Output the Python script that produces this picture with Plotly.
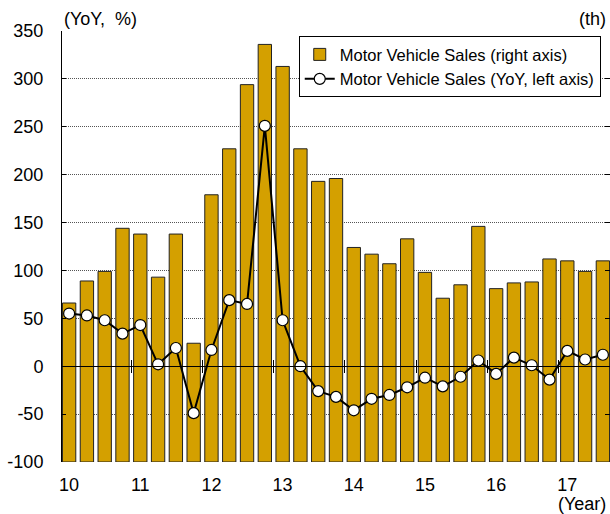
import plotly.graph_objects as go

# quarterly, 2010Q1 .. 2017Q3
quarters = list(range(31))
year_ticks = [0, 4, 8, 12, 16, 20, 24, 28]
year_labels = ['10', '11', '12', '13', '14', '15', '16', '17']
year_bounds = [3.5, 7.5, 11.5, 15.5, 19.5, 23.5, 27.5]

# left axis ticks (plain hyphen for negatives, as in the original)
yoy_ticks = [-100, -50, 0, 50, 100, 150, 200, 250, 300, 350]
yoy_tick_labels = ['-100', '-50', '0', '50', '100', '150', '200', '250', '300', '350']

# motor vehicle sales (right axis, thousand units)
sales = [166, 189, 199, 244, 238, 193, 238, 124,
         279, 327, 394, 436, 413, 327, 293, 296,
         224, 217, 207, 233, 198, 171, 185, 246,
         181, 187, 188, 212, 210, 199, 210]

# YoY change (left axis, %)
yoy = [55, 53, 48, 34, 43, 2, 19, -49,
       17, 69, 65, 251, 48, 0, -26, -32,
       -46, -34, -30, -22, -12, -21, -11, 6,
       -8, 9, 1, -14, 16, 7, 12]

FONT = 'Liberation Sans, Arial, sans-serif'

fig = go.Figure()

# bars on the primary (right-hand) axis, line on the overlaying left axis so it sits on top
fig.add_trace(go.Bar(
    x=quarters, y=sales, yaxis='y',
    name='Motor Vehicle Sales (right axis)',
    marker=dict(color='#D4A000', line=dict(color='#222', width=1)),
    width=0.75
))

fig.add_trace(go.Scatter(
    x=quarters, y=yoy, yaxis='y2',
    mode='lines+markers',
    name='Motor Vehicle Sales (YoY, left axis)',
    line=dict(color='black', width=2),
    marker=dict(size=11, color='white', line=dict(color='black', width=1.2))
))

# empty traces so the zero-line axes get drawn
fig.add_trace(go.Scatter(x=[], y=[], xaxis='x2', yaxis='y2', showlegend=False))
fig.add_trace(go.Scatter(x=[], y=[], xaxis='x3', yaxis='y2', showlegend=False))

zero_pos = 100 / 450

fig.update_layout(
    width=610, height=514,
    margin=dict(l=62, r=0, t=31, b=52),
    plot_bgcolor='white',
    paper_bgcolor='white',
    font=dict(family=FONT, color='black', size=18),
    xaxis=dict(
        range=[-0.4, 30.4],
        tickvals=year_ticks, ticktext=year_labels,
        ticks='outside', ticklen=6, tickcolor='rgba(0,0,0,0)',
        showline=False, showgrid=False, zeroline=False,
        tickfont=dict(size=18), automargin=False
    ),
    xaxis2=dict(
        overlaying='x', anchor='free', position=zero_pos,
        range=[-0.4, 30.4],
        tickvals=year_bounds, ticks='outside', ticklen=6, tickcolor='black',
        showticklabels=False, showline=True, linecolor='black', linewidth=1,
        showgrid=False, zeroline=False, layer='above traces', automargin=False
    ),
    xaxis3=dict(
        overlaying='x', anchor='free', position=zero_pos, side='top',
        range=[-0.4, 30.4],
        tickvals=year_bounds, ticks='outside', ticklen=6, tickcolor='black',
        showticklabels=False, showline=False,
        showgrid=False, zeroline=False, layer='above traces', automargin=False
    ),
    yaxis=dict(
        side='right', range=[0, 450], dtick=50,
        ticks='inside', ticklen=5, tickcolor='black',
        showticklabels=False, showline=True, linecolor='black',
        showgrid=True, gridcolor='#555', griddash='1px,1px', gridwidth=1,
        zeroline=False, automargin=False
    ),
    yaxis2=dict(
        overlaying='y', side='left', range=[-100, 350],
        tickvals=yoy_ticks, ticktext=yoy_tick_labels,
        ticks='inside', ticklen=4, tickcolor='black',
        showline=True, linecolor='black', linewidth=1,
        showgrid=False, zeroline=False, ticklabelstandoff=14,
        tickfont=dict(size=18), automargin=False
    ),
    legend=dict(
        x=0.432, y=0.988, xanchor='left', yanchor='top',
        bgcolor='white', bordercolor='black', borderwidth=1,
        font=dict(size=16.5), traceorder='normal',
        tracegroupgap=0
    ),
    annotations=[
        dict(text='(YoY,\u00a0 %)', xref='paper', yref='paper', x=0, y=1,
             xanchor='left', yanchor='bottom', showarrow=False, font=dict(size=18)),
        dict(text='(th)', xref='paper', yref='paper', x=1, y=1, xshift=-2,
             xanchor='right', yanchor='bottom', showarrow=False, font=dict(size=18)),
        dict(text='(Year)', xref='paper', yref='paper', x=1, y=0, xshift=-2, yshift=-30,
             xanchor='right', yanchor='top', showarrow=False, font=dict(size=18)),
    ]
)

fig.write_html("out.html", config={'displayModeBar': False},
               post_script="document.body.style.margin='0';")
